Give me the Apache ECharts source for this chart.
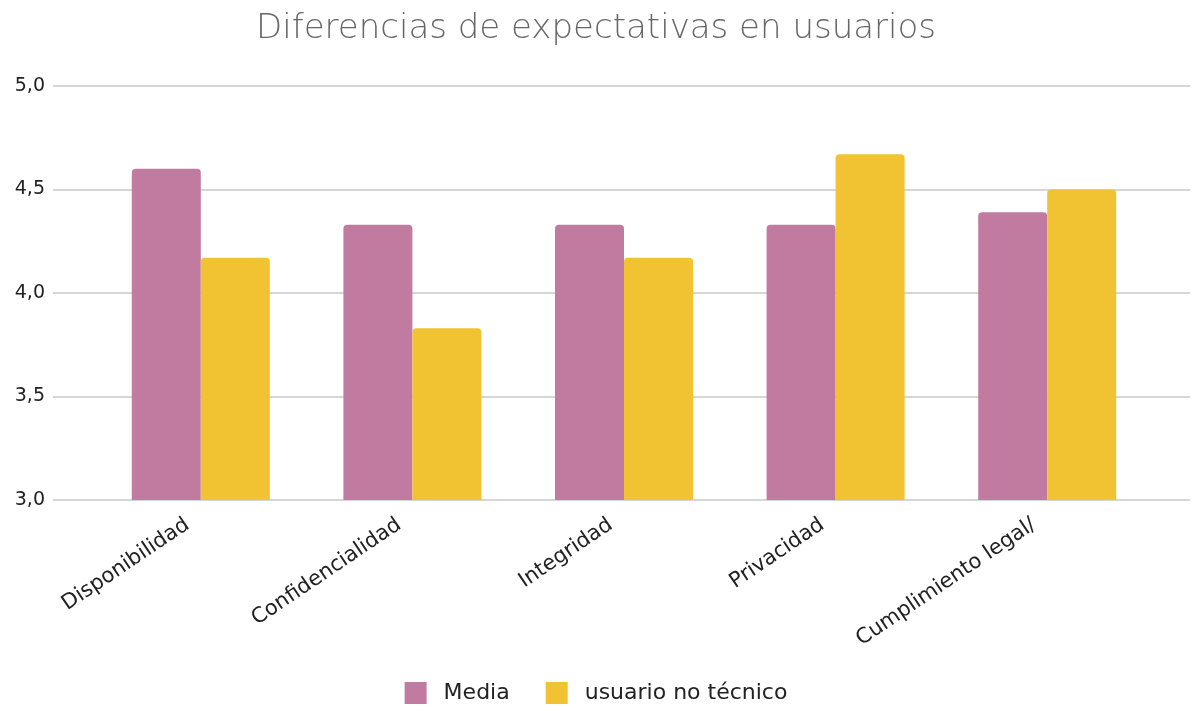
<!DOCTYPE html>
<html>
	<head>
		<meta charset="utf-8" />
		<title>Diferencias de expectativas en usuarios</title>
		<style type="text/css">
			body,
			html,
			#chart {
				width: 100%;
				height: 100%;
				overflow: hidden;
				margin: 0;
				background: #fff;
			}
		</style>
	</head>
	<body>
		<div id="chart"></div>
		<script src="https://cdn.jsdelivr.net/npm/echarts@6/dist/echarts.min.js"></script>
		<script>
			// datos
			var categorias = ['Disponibilidad', 'Confidencialidad', 'Integridad', 'Privacidad', 'Cumplimiento legal/'];
			var media = [4.6, 4.33, 4.33, 4.33, 4.39];
			var noTecnico = [4.17, 3.83, 4.17, 4.67, 4.5];
			var yMin = 3.0;
			var yMax = 5.0;
			var yPaso = 0.5;

			var chart = echarts.init(document.getElementById('chart'));
			var fuente = "'DejaVu Sans', 'Open Sans', sans-serif";

			var option = {
				textStyle: { fontFamily: fuente },
				title: {
					text: 'Diferencias de expectativas en usuarios',
					left: 'center',
					top: 7,
					textStyle: { fontSize: 34, fontWeight: 300, color: '#666', fontFamily: fuente }
				},
				legend: {
					bottom: 2,
					left: 'center',
					itemWidth: 22,
					itemHeight: 22,
					itemGap: 36,
					icon: 'rect',
					textStyle: { fontSize: 22, color: '#222', padding: [0, 0, 0, 12], fontFamily: fuente },
					data: ['Media', 'usuario no técnico']
				},
				// grid 0 solo para lineas y etiquetas del eje Y (de borde a borde)
				grid: [
					{ left: 53, right: 2, top: 86, bottom: 211 },
					{ left: 95, right: 39, top: 86, bottom: 211 }
				],
				xAxis: [
					{ gridIndex: 0, type: 'value', show: false },
					{
						gridIndex: 1,
						type: 'category',
						data: categorias,
						axisLine: { show: false },
						axisTick: { show: false },
						axisLabel: {
							rotate: 34,
							fontSize: 21,
							color: '#222',
							margin: 14,
							padding: [0, 16, 0, 0],
							fontFamily: fuente
						}
					}
				],
				yAxis: [
					{
						gridIndex: 0,
						type: 'value',
						min: yMin,
						max: yMax,
						interval: yPaso,
						axisLine: { show: false },
						axisTick: { show: false },
						axisLabel: {
							fontSize: 19,
							color: '#222',
							margin: 8,
							fontFamily: fuente,
							formatter: function (v) {
								return v.toFixed(1).replace('.', ',');
							}
						},
						splitLine: { lineStyle: { color: '#c8c8c8', width: 1.5 } }
					},
					{
						gridIndex: 1,
						type: 'value',
						min: yMin,
						max: yMax,
						interval: yPaso,
						show: false
					}
				],
				series: [
					{
						name: 'Media',
						type: 'bar',
						xAxisIndex: 1,
						yAxisIndex: 1,
						data: media,
						barWidth: 69,
						barGap: '0%',
						itemStyle: { color: '#C27BA0', borderRadius: [4, 4, 0, 0] }
					},
					{
						name: 'usuario no técnico',
						type: 'bar',
						xAxisIndex: 1,
						yAxisIndex: 1,
						data: noTecnico,
						barWidth: 69,
						barGap: '0%',
						itemStyle: { color: '#F1C232', borderRadius: [4, 4, 0, 0] }
					}
				]
			};
			chart.setOption(option);
		</script>
	</body>
</html>
